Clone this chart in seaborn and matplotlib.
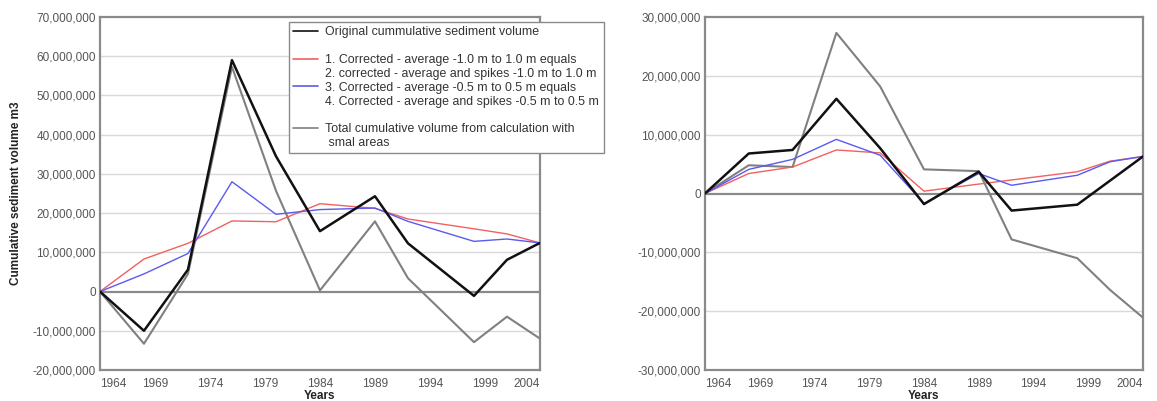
import matplotlib
matplotlib.use("Agg")
import matplotlib.pyplot as plt
import seaborn as sns
import pandas as pd
from matplotlib.lines import Line2D
from matplotlib.ticker import FuncFormatter

sns.set_theme(style="white")
plt.rcParams['font.family'] = ['Liberation Sans', 'DejaVu Sans']

years = [1964, 1968, 1972, 1976, 1980, 1984, 1989, 1992, 1998, 2001, 2004]
tick_years = [1964, 1969, 1974, 1979, 1984, 1989, 1994, 1999, 2004]

# Left panel (millions m3)
left_original = [0, -10.0, 5.6, 59.0, 34.5, 15.4, 24.3, 12.3, -1.1, 8.1, 12.4]
left_corr_1m = [0, 8.3, 12.3, 18.0, 17.8, 22.4, 21.2, 18.5, 16.0, 14.7, 12.4]
left_corr_05m = [0, 4.5, 9.7, 28.0, 19.7, 20.9, 21.3, 17.9, 12.8, 13.4, 12.4]
left_total = [0, -13.3, 4.5, 57.3, 25.7, 0.3, 17.9, 3.4, -12.9, -6.4, -12.0]

# Right panel (millions m3)
right_original = [0, 6.8, 7.4, 16.1, 7.7, -1.8, 3.7, -2.9, -1.9, 2.2, 6.3]
right_corr_1m = [0, 3.4, 4.5, 7.4, 6.9, 0.4, 1.6, 2.3, 3.7, 5.5, 6.3]
right_corr_05m = [0, 4.1, 5.8, 9.2, 6.5, -1.7, 3.4, 1.4, 3.1, 5.4, 6.3]
right_total = [0, 4.8, 4.5, 27.3, 18.2, 4.1, 3.8, -7.8, -11.0, -16.4, -21.1]

left_ticks = [-20, -10, 0, 10, 20, 30, 40, 50, 60, 70]
right_ticks = [-30, -20, -10, 0, 10, 20, 30]

legend_labels = [
    "Original cummulative sediment volume",
    "",
    "1. Corrected - average -1.0 m to 1.0 m equals",
    "2. corrected - average and spikes -1.0 m to 1.0 m",
    "3. Corrected - average -0.5 m to 0.5 m equals",
    "4. Corrected - average and spikes -0.5 m to 0.5 m",
    "",
    "Total cumulative volume from calculation with",
    " smal areas",
]

C_BLACK = "#111111"
C_RED = "#f26060"
C_BLUE = "#5a5af0"
C_GRAY = "#808080"
TICK_C = "#555555"

fig = plt.figure(figsize=(11.57, 4.01), dpi=100)
ax1 = fig.add_axes([0.0864, 0.0773, 0.3803, 0.8803])
ax2 = fig.add_axes([0.6093, 0.0773, 0.3786, 0.8803])

def fmt(v, pos):
    return f"{int(round(v * 1e6)):,}"

def draw(ax, orig, c1, c05, tot, ticks):
    for vals, col, lw, z in [(tot, C_GRAY, 1.5, 3), (c1, C_RED, 1.0, 4),
                             (c05, C_BLUE, 1.0, 5), (orig, C_BLACK, 1.8, 6)]:
        df = pd.DataFrame({"year": years, "v": vals})
        sns.lineplot(data=df, x="year", y="v", color=col, lw=lw, ax=ax,
                     zorder=z, legend=False)
    ax.set_xlim(1964, 2004)
    ax.set_ylim(ticks[0], ticks[-1])
    ax.set_yticks(ticks)
    ax.set_xticks(tick_years)
    ax.yaxis.set_major_formatter(FuncFormatter(fmt))
    for t in ticks:
        if t != 0 and t not in (ticks[0], ticks[-1]):
            ax.axhline(t, color="#d9d9d9", lw=1.0, zorder=1)
    ax.axhline(0, color="#8a8a8a", lw=1.6, zorder=2)
    for s in ax.spines.values():
        s.set_color("#8a8a8a")
        s.set_linewidth(1.6)
        s.set_visible(True)
    ax.tick_params(length=0, labelsize=8.5, labelcolor=TICK_C)
    ax.tick_params(axis="y", pad=3)
    ax.tick_params(axis="x", pad=6)
    labs = ax.get_xticklabels()
    labs[0].set_ha("left")
    labs[-1].set_ha("right")
    ax.set_xlabel("Years", fontsize=8.5, fontweight="bold", color="#222222",
                  labelpad=0)
    ax.set_ylabel("")

draw(ax1, left_original, left_corr_1m, left_corr_05m, left_total, left_ticks)
draw(ax2, right_original, right_corr_1m, right_corr_05m, right_total, right_ticks)

ax1.set_ylabel("Cumulative sediment volume m3", fontsize=8.5,
               fontweight="bold", color="#222222")
ax1.yaxis.set_label_coords(-0.177, 0.5)

blank = Line2D([], [], color="none")
handles = [
    Line2D([], [], color=C_BLACK, lw=1.2), blank,
    Line2D([], [], color=C_RED, lw=1.2), blank,
    Line2D([], [], color=C_BLUE, lw=1.2), blank, blank,
    Line2D([], [], color=C_GRAY, lw=1.2), blank,
]
leg = fig.legend(handles, legend_labels, loc="upper left",
                 bbox_to_anchor=(289 / 1157, 1 - 22 / 401),
                 bbox_transform=fig.transFigure,
                 fontsize=8.9, frameon=True, fancybox=False, framealpha=1,
                 edgecolor="#8a8a8a", handlelength=2.0, handletextpad=0.6,
                 labelspacing=0.15, borderpad=0.35, borderaxespad=0)
leg.get_frame().set_linewidth(1.0)
for t in leg.get_texts():
    t.set_color("#333333")

fig.savefig("out.png", dpi=100)
